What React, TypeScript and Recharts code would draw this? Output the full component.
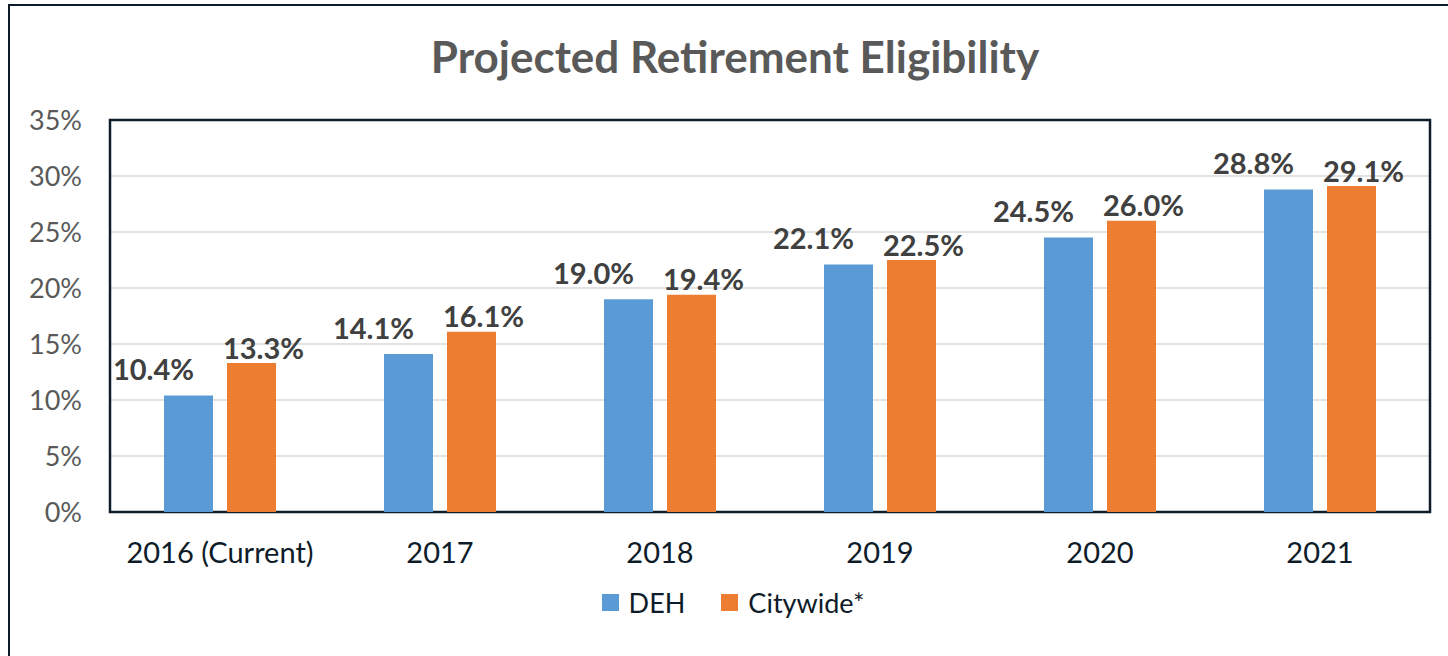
import { BarChart, Bar, XAxis, YAxis, CartesianGrid, LabelList, ReferenceArea } from "recharts";

const categories = ["2016 (Current)", "2017", "2018", "2019", "2020", "2021"];
const dehValues = [0.104, 0.141, 0.19, 0.221, 0.245, 0.288];
const citywideValues = [0.133, 0.161, 0.194, 0.225, 0.26, 0.291];
const yTicks = [0, 0.05, 0.1, 0.15, 0.2, 0.25, 0.3, 0.35];

const SERIES = [
  { key: "deh", name: "DEH", color: "#5b9bd5" },
  { key: "citywide", name: "Citywide*", color: "#ed7d31" },
];

const FONT = "Lato, 'Open Sans', sans-serif";
const INK = "#0e1b28";

const data = categories.map((name, i) => ({
  name,
  deh: dehValues[i],
  citywide: citywideValues[i],
}));

const pct = (v: number) => `${Math.round(v * 100)}%`;

// excel pushed the labels sideways so they don't collide
function makeLabel(dx: number, dy: number) {
  return (props: any) => {
    const { x, y, width, value } = props;
    return (
      <text
        x={Number(x) + Number(width) / 2 + dx}
        y={Number(y) - dy}
        textAnchor="middle"
        dominantBaseline="central"
        fontFamily={FONT}
        fontWeight={700}
        fontSize={29}
        fill="#404040"
      >
        {(Number(value) * 100).toFixed(1)}%
      </text>
    );
  };
}

export default function App() {
  return (
    <div
      style={{
        position: "absolute",
        left: 0,
        top: 0,
        width: 1448,
        height: 656,
        overflow: "hidden",
        background: "#fff",
        fontFamily: FONT,
      }}
    >
      <div
        style={{
          position: "absolute",
          left: 8,
          top: 4,
          width: 1480,
          height: 700,
          border: `2px solid ${INK}`,
        }}
      />
      <div
        style={{
          position: "absolute",
          left: 0,
          top: 32,
          width: 1470,
          textAlign: "center",
          fontSize: 44,
          lineHeight: "48px",
          fontWeight: 700,
          color: "#595959",
        }}
      >
        Projected Retirement Eligibility
      </div>
      <div style={{ position: "absolute", left: 0, top: 0 }}>
        <BarChart
          width={1448}
          height={656}
          data={data}
          margin={{ top: 120, right: 18, bottom: 84, left: 0 }}
          barCategoryGap={54}
          barGap={14}
        >
          <CartesianGrid vertical={false} stroke="#d9d9d9" strokeWidth={1.5} />
          <XAxis
            dataKey="name"
            axisLine={false}
            tickLine={false}
            tickSize={0}
            tickMargin={30}
            height={60}
            interval={0}
            tick={{ fill: INK, fontSize: 29, fontFamily: FONT }}
          />
          <YAxis
            domain={[0, 0.35]}
            ticks={yTicks}
            tickFormatter={pct}
            axisLine={false}
            tickLine={false}
            tickSize={0}
            tickMargin={28}
            width={110}
            tick={{ fill: "#595959", fontSize: 27, fontFamily: FONT }}
          />
          {SERIES.map((s, i) => (
            <Bar key={s.key} dataKey={s.key} name={s.name} fill={s.color} isAnimationActive={false}>
              <LabelList dataKey={s.key} content={i === 0 ? makeLabel(-35, 27) : makeLabel(12, 16)} />
            </Bar>
          ))}
          <ReferenceArea
            y1={0}
            y2={0.35}
            fill="none"
            stroke={INK}
            strokeWidth={2.5}
            ifOverflow="visible"
          />
        </BarChart>
      </div>
      <div
        style={{
          position: "absolute",
          left: 0,
          top: 586,
          width: 1466,
          display: "flex",
          justifyContent: "center",
          alignItems: "center",
          gap: 36,
          fontSize: 27,
          color: INK,
        }}
      >
        {SERIES.map((s) => (
          <div key={s.key} style={{ display: "flex", alignItems: "center", gap: 10 }}>
            <span style={{ width: 17, height: 17, background: s.color, display: "inline-block" }} />
            {s.name}
          </div>
        ))}
      </div>
    </div>
  );
}
